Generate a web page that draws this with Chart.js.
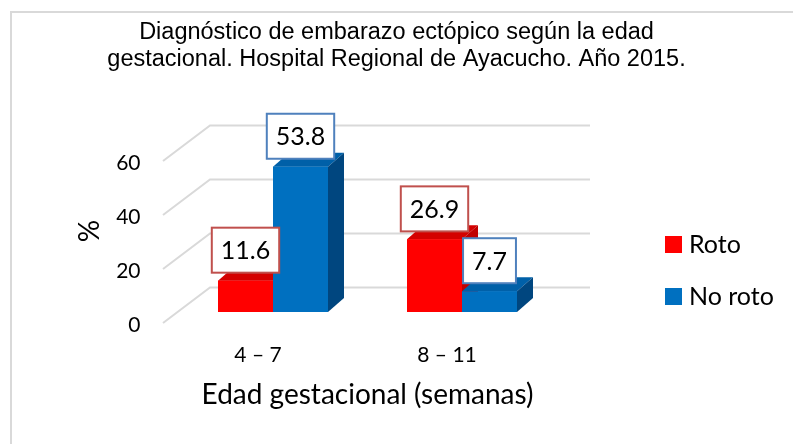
<!DOCTYPE html>
<html>
<head>
<meta charset="utf-8">
<script src="https://cdn.jsdelivr.net/npm/chart.js@4.4.0/dist/chart.umd.min.js"></script>
<style>
  html, body { margin: 0; padding: 0; background: #fff; }
</style>
</head>
<body>
<canvas id="myChart" width="793" height="444"></canvas>
<script>
// data
const categories = ['4 – 7', '8 – 11']
const seriesNames = ['Roto', 'No roto']
const roto = [11.6, 26.9]
const noRoto = [53.8, 7.7]
const yTicks = [0, 20, 40, 60]

const DX = 16 // depth of the 3d bars
const DY = -14

// light grey frame round the whole picture
const framePlugin = {
  id: 'frame',
  beforeDraw (chart) {
    const ctx = chart.ctx
    ctx.save()
    ctx.strokeStyle = '#d9d9d9'
    ctx.lineWidth = 2
    ctx.beginPath()
    ctx.moveTo(11, chart.height)
    ctx.lineTo(11, 12)
    ctx.lineTo(chart.width, 12)
    ctx.stroke()
    ctx.restore()
  }
}

// back wall grid lines with the little diagonal floor part
const wallPlugin = {
  id: 'wall',
  beforeDatasetsDraw (chart) {
    const { ctx, chartArea, scales } = chart
    ctx.save()
    ctx.strokeStyle = '#d9d9d9'
    ctx.lineWidth = 2
    scales.y.ticks.forEach(t => {
      const py = scales.y.getPixelForValue(t.value)
      ctx.beginPath()
      ctx.moveTo(chartArea.left - 15.5, py + 11)
      ctx.lineTo(chartArea.left + 31.5, py - 24.5)
      ctx.lineTo(chartArea.right + 33.5, py - 24.5)
      ctx.stroke()
    })
    ctx.restore()
  }
}

// top and side faces of the bars, then the labels in boxes and the legend
const barsPlugin = {
  id: 'bars3d',
  afterDatasetsDraw (chart) {
    const ctx = chart.ctx
    ctx.save()
    chart.data.datasets.forEach((ds, i) => {
      chart.getDatasetMeta(i).data.forEach(bar => {
        const { x, y, base, width } = bar.getProps(['x', 'y', 'base', 'width'], true)
        const l = x - width / 2
        const r = x + width / 2
        ctx.fillStyle = ds.topColor
        ctx.beginPath()
        ctx.moveTo(l, y)
        ctx.lineTo(l + DX, y + DY)
        ctx.lineTo(r + DX, y + DY)
        ctx.lineTo(r, y)
        ctx.closePath()
        ctx.fill()
        ctx.fillStyle = ds.sideColor
        ctx.beginPath()
        ctx.moveTo(r, y)
        ctx.lineTo(r + DX, y + DY)
        ctx.lineTo(r + DX, base + DY)
        ctx.lineTo(r, base)
        ctx.closePath()
        ctx.fill()
        ctx.fillStyle = ds.backgroundColor
        ctx.fillRect(l, y, width, base - y)
      })
    })
    ctx.restore()
  },
  afterDraw (chart) {
    const ctx = chart.ctx
    ctx.save()
    ctx.font = '25px Lato'
    ctx.textAlign = 'center'
    ctx.textBaseline = 'middle'
    chart.data.datasets.forEach((ds, i) => {
      chart.getDatasetMeta(i).data.forEach((bar, j) => {
        const txt = ds.data[j].toFixed(1)
        const w = ctx.measureText(txt).width + 18
        const h = 45
        const bx = bar.x - w / 2
        const by = bar.y - 8 - h
        ctx.fillStyle = '#fff'
        ctx.fillRect(bx, by, w, h)
        ctx.strokeStyle = ds.labelBorder
        ctx.lineWidth = 2
        ctx.strokeRect(bx, by, w, h)
        ctx.fillStyle = '#000'
        ctx.fillText(txt, bar.x, by + h / 2 + 1)
      })
    })
    // legend
    const area = chart.chartArea
    ctx.textAlign = 'left'
    ctx.font = '25px Lato'
    chart.data.datasets.forEach((ds, i) => {
      const lx = area.right + 108.5
      const ly = 236 + i * 52
      ctx.fillStyle = ds.backgroundColor
      ctx.fillRect(lx, ly, 17, 17)
      ctx.fillStyle = '#000'
      ctx.fillText(ds.label, lx + 24, ly + 9)
    })
    ctx.restore()
  }
}

new Chart(document.getElementById('myChart'), {
  type: 'bar',
  data: {
    labels: categories,
    datasets: [
      {
        label: seriesNames[0],
        data: roto,
        backgroundColor: '#ff0000',
        topColor: '#d40000',
        sideColor: '#c00000',
        labelBorder: '#c0504d'
      },
      {
        label: seriesNames[1],
        data: noRoto,
        backgroundColor: '#0070c0',
        topColor: '#0060a8',
        sideColor: '#00467f',
        labelBorder: '#4f81bd'
      }
    ]
  },
  options: {
    responsive: false,
    animation: false,
    categoryPercentage: 0.582,
    barPercentage: 1,
    plugins: {
      legend: { display: false },
      tooltip: { enabled: false },
      title: {
        display: true,
        text: ['Diagnóstico de embarazo ectópico según la edad', 'gestacional. Hospital Regional de Ayacucho. Año 2015.'],
        color: '#000',
        font: { family: 'Liberation Sans', size: 23.5, weight: 'normal', lineHeight: 1.13 },
        padding: { top: 19.5, bottom: 77.4 }
      }
    },
    scales: {
      x: {
        grid: { display: false, drawTicks: false },
        border: { display: false },
        ticks: { padding: 31, labelOffset: -15, color: '#000', font: { family: 'Lato', size: 21 } },
        title: {
          display: true,
          text: 'Edad gestacional (semanas)',
          color: '#000',
          font: { family: 'Lato', size: 28 },
          padding: { top: 0, bottom: 32.2 }
        },
        afterFit (s) { s.height = 132 }
      },
      y: {
        min: 0,
        max: 60,
        grid: { display: false, drawTicks: false },
        border: { display: false },
        afterBuildTicks (s) { s.ticks = yTicks.map(v => ({ value: v })) },
        ticks: { padding: 38, labelOffset: 13, color: '#000', font: { family: 'Lato', size: 21 } },
        title: {
          display: true,
          text: '%',
          color: '#000',
          font: { family: 'Lato', size: 28 },
          padding: { top: 73.2, bottom: 0 }
        },
        afterFit (s) { s.width = 178.5 }
      },
      // empty right-hand axis, only keeps room for the legend
      side: {
        type: 'linear',
        position: 'right',
        grid: { display: false },
        border: { display: false },
        ticks: { display: false },
        afterFit (s) { s.width = 236.5 }
      }
    }
  },
  plugins: [framePlugin, wallPlugin, barsPlugin]
})
</script>
</body>
</html>
